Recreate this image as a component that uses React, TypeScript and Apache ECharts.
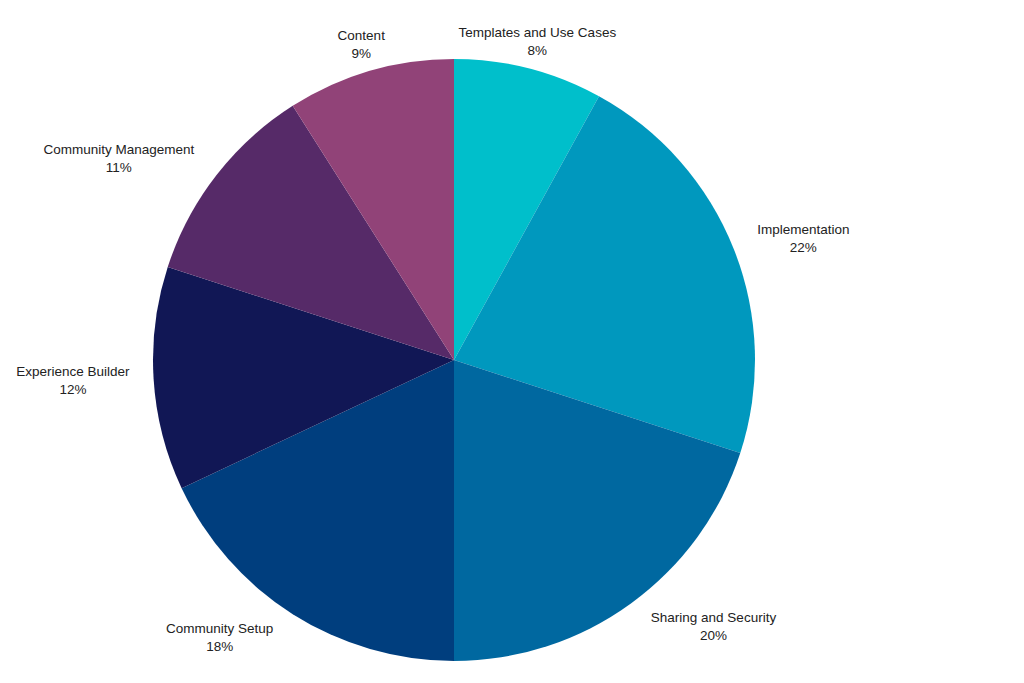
import React, { useEffect, useRef } from "react";
import * as echarts from "echarts";

const categories = [
  "Templates and Use Cases",
  "Implementation",
  "Sharing and Security",
  "Community Setup",
  "Experience Builder",
  "Community Management",
  "Content",
];
const values = [8, 22, 20, 18, 12, 11, 9];
const colors = ["#00BFCB", "#0098BE", "#0068A0", "#003E7E", "#111755", "#562A68", "#914378"];

const CX = 454;
const CY = 360;
const R = 301;
const GAP = 10;

export default function App() {
  const ref = useRef<HTMLDivElement>(null);
  useEffect(() => {
    if (!ref.current) return;
    const chart = echarts.init(ref.current, undefined, { renderer: "svg" });
    const total = values.reduce((a, b) => a + b, 0);
    const mids: number[] = [];
    let acc = 0;
    values.forEach((v) => {
      mids.push(((acc + v / 2) / total) * Math.PI * 2);
      acc += v;
    });
    chart.setOption({
      animation: false,
      backgroundColor: "#ffffff",
      series: [
        {
          type: "pie",
          center: [CX, CY],
          radius: [0, R],
          startAngle: 90,
          clockwise: true,
          avoidLabelOverlap: false,
          itemStyle: { borderWidth: 0 },
          label: {
            show: true,
            position: "outside",
            formatter: "{b}\n{c}%",
            fontSize: 13.5,
            lineHeight: 18,
            color: "#222222",
            fontFamily: "Liberation Sans, Arial, sans-serif",
            align: "center",
          },
          labelLine: { show: false },
          labelLayout: (params: any) => {
            const i = params.dataIndex;
            const th = mids[i];
            const s = Math.sin(th);
            const c = Math.cos(th);
            const w = params.labelRect.width;
            const h = params.labelRect.height;
            let dx = (R + GAP) * s;
            if (Math.abs(s) > 0.4) dx += Math.sign(s) * (w / 2 + 14);
            else dx += Math.sign(s) * 6;
            const dy = -(R + GAP) * c - (c * h) / 2;
            return {
              x: CX + dx,
              y: CY + dy,
              align: "center",
              verticalAlign: "middle",
            };
          },
          data: categories.map((name, i) => ({
            name,
            value: values[i],
            itemStyle: { color: colors[i] },
          })),
        },
      ],
    });
    return () => chart.dispose();
  }, []);
  return (
    <div
      ref={ref}
      style={{ position: "absolute", left: 0, top: 0, width: 1024, height: 683 }}
    />
  );
}
